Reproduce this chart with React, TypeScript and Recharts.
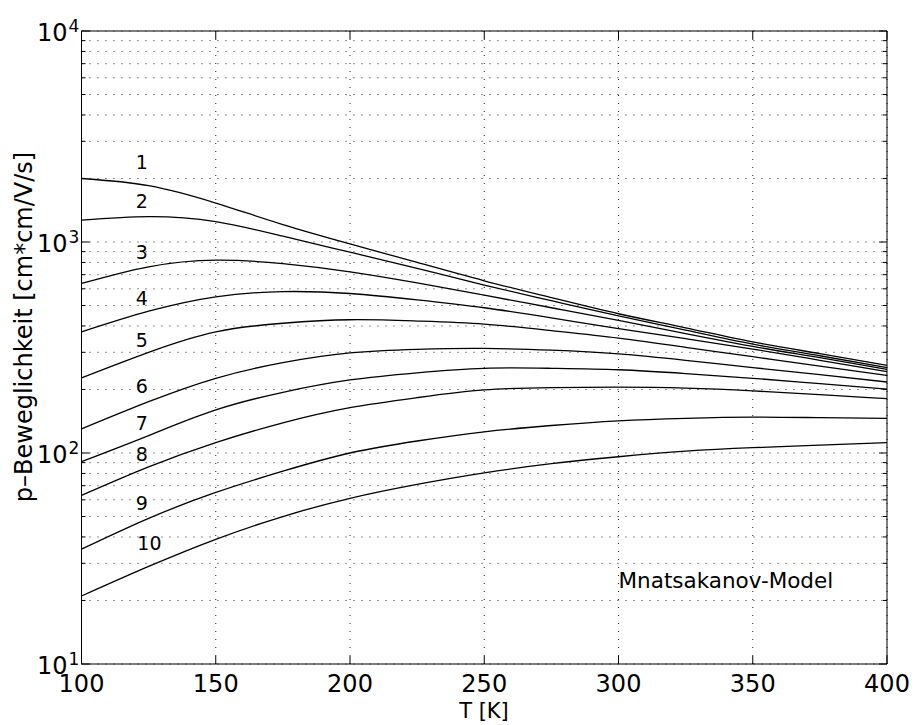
import React from 'react';
import { LineChart, Line, XAxis, YAxis, CartesianGrid, ReferenceDot } from 'recharts';

// Temperatur [K]
const temps = [100, 125, 150, 175, 200, 225, 250, 275, 300, 325, 350, 375, 400];

// p-Beweglichkeit je Kurve [cm*cm/V/s]
const kurve1 = [2000, 1850, 1530, 1210, 980, 800, 655, 545, 457, 392, 336, 296, 260];
const kurve2 = [1270, 1320, 1250, 1065, 895, 750, 625, 527, 446, 382, 328, 289, 254];
const kurve3 = [636, 763, 820, 790, 722, 640, 560, 488, 425, 368, 320, 283, 249];
const kurve4 = [375, 470, 550, 582, 570, 532, 488, 437, 389, 348, 311, 275, 243];
const kurve5 = [227, 300, 375, 412, 428, 422, 408, 380, 350, 317, 286, 258, 233];
const kurve6 = [130, 175, 226, 268, 298, 310, 313, 307, 295, 275, 254, 235, 217];
const kurve7 = [91, 121, 160, 194, 222, 240, 252, 252, 248, 238, 226, 213, 201];
const kurve8 = [63, 86, 112, 139, 164, 183, 199, 204, 205, 203, 197, 189, 181];
const kurve9 = [35, 49, 65, 82, 100, 114, 126, 135, 142, 146, 148, 147, 146];
const kurve10 = [21, 29, 39, 50, 61, 71, 80.5, 89, 96, 102, 106, 109, 112];

const kurven = [kurve1, kurve2, kurve3, kurve4, kurve5, kurve6, kurve7, kurve8, kurve9, kurve10];

const xTicks = [100, 150, 200, 250, 300, 350, 400];
const yTicks = [
  10, 20, 30, 40, 50, 60, 70, 80, 90,
  100, 200, 300, 400, 500, 600, 700, 800, 900,
  1000, 2000, 3000, 4000, 5000, 6000, 7000, 8000, 9000,
  10000,
];

// Kurvennummern (Position in Datenkoordinaten)
const labelNames = ['1', '2', '3', '4', '5', '6', '7', '8', '9', '10'];
const labelT = [122.5, 122.5, 122.5, 122.5, 122.5, 122.5, 122.5, 122.5, 122.5, 125.3];
const labelMu = [2390, 1560, 896, 539, 344, 207, 138, 98.7, 58, 37.5];

const data = temps.map((T, i) => {
  const row: Record<string, number> = { T };
  kurven.forEach((k, j) => {
    row[`k${j + 1}`] = k[i];
  });
  return row;
});

const isMajor = (v: number) => Math.abs(Math.log10(v) - Math.round(Math.log10(v))) < 1e-9;

function BottomTick({ x, y, payload }: any) {
  return (
    <g>
      <line x1={x} x2={x} y1={y} y2={y - 8} stroke="#000" />
      <text x={x} y={y + 28} textAnchor="middle" fontSize={24} fill="#000">
        {payload.value}
      </text>
    </g>
  );
}

function TopTick({ x, y }: any) {
  return <line x1={x} x2={x} y1={y} y2={y + 8} stroke="#000" />;
}

function LeftTick({ x, y, payload }: any) {
  const major = isMajor(payload.value);
  return (
    <g>
      <line x1={x} x2={x + (major ? 8 : 4)} y1={y} y2={y} stroke="#000" />
      {major && (
        <g fill="#000">
          <text x={x - 14} y={y + 9.5} textAnchor="end" fontSize={24}>
            10
          </text>
          <text x={x - 13} y={y + 1} textAnchor="start" fontSize={17}>
            {Math.round(Math.log10(payload.value))}
          </text>
        </g>
      )}
    </g>
  );
}

function RightTick({ x, y, payload }: any) {
  const major = isMajor(payload.value);
  return <line x1={x} x2={x - (major ? 8 : 4)} y1={y} y2={y} stroke="#000" />;
}

export default function App() {
  return (
    <div style={{ position: 'absolute', left: 0, top: 0, fontFamily: '"DejaVu Sans", sans-serif', background: '#fff' }}>
      <LineChart width={920} height={725} data={data} margin={{ top: 0, right: 0, bottom: 0, left: 0 }}>
        <CartesianGrid stroke="#222" strokeDasharray="1 7" />
        <XAxis
          dataKey="T"
          type="number"
          domain={[100, 400]}
          ticks={xTicks}
          interval={0}
          height={61}
          stroke="#000"
          tickLine={false}
          tickSize={0}
          tickMargin={0}
          tick={<BottomTick />}
          label={{
            content: () => (
              <text x={484} y={718} textAnchor="middle" fontSize={21} fill="#000">
                T [K]
              </text>
            ),
          }}
        />
        <XAxis
          xAxisId="top"
          orientation="top"
          dataKey="T"
          type="number"
          domain={[100, 400]}
          ticks={xTicks}
          interval={0}
          height={31}
          stroke="#000"
          tickLine={false}
          tickSize={0}
          tickMargin={0}
          tick={<TopTick />}
        />
        <YAxis
          type="number"
          scale="log"
          domain={[10, 10000]}
          allowDataOverflow
          ticks={yTicks}
          interval={0}
          width={81.5}
          stroke="#000"
          tickLine={false}
          tickSize={0}
          tickMargin={0}
          tick={<LeftTick />}
          label={{
            content: () => (
              <text x={32} y={327} transform="rotate(-90 32 327)" textAnchor="middle" fontSize={24} fill="#000">
                p–Beweglichkeit [cm*cm/V/s]
              </text>
            ),
          }}
        />
        <YAxis
          yAxisId="right"
          orientation="right"
          type="number"
          scale="log"
          domain={[10, 10000]}
          allowDataOverflow
          ticks={yTicks}
          interval={0}
          width={33}
          stroke="#000"
          tickLine={false}
          tickSize={0}
          tickMargin={0}
          tick={<RightTick />}
        />
        {kurven.map((_, j) => (
          <Line
            key={j}
            dataKey={`k${j + 1}`}
            type="natural"
            stroke="#000"
            strokeWidth={1.3}
            dot={false}
            isAnimationActive={false}
          />
        ))}
        {labelNames.map((name, i) => (
          <ReferenceDot
            key={name}
            x={labelT[i]}
            y={labelMu[i]}
            r={0}
            fill="none"
            stroke="none"
            label={{ value: name, position: 'center', fontSize: 19, fill: '#000' }}
          />
        ))}
        <ReferenceDot
          x={340}
          y={24.9}
          r={0}
          fill="none"
          stroke="none"
          label={{ value: 'Mnatsakanov-Model', position: 'center', fontSize: 21.5, fill: '#000' }}
        />
      </LineChart>
    </div>
  );
}
